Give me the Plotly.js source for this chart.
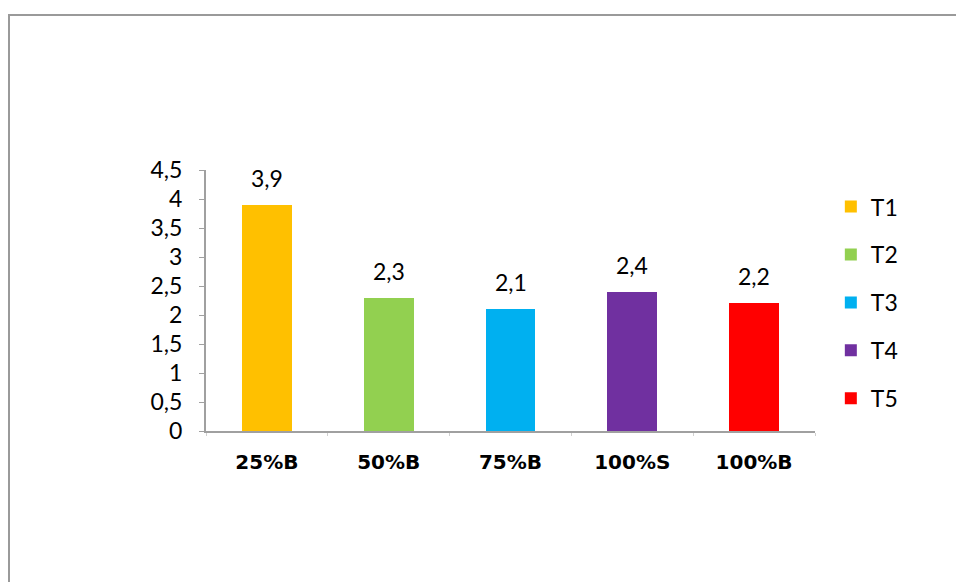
<!DOCTYPE html>
<html>
<head>
<meta charset="utf-8">
<script src="https://cdn.plot.ly/plotly-3.0.1.min.js"></script>
<style>
  html, body { margin: 0; padding: 0; background: #fff; }
  #frame { position: absolute; left: 8px; top: 14px; width: 960px; height: 600px;
           border-left: 2px solid #9a9a9a; border-top: 2px solid #9a9a9a; }
  #chart { position: absolute; left: 0; top: 0; width: 956px; height: 582px; }
</style>
</head>
<body>
<div id="frame"></div>
<div id="chart"></div>
<script>
const categories = ['25%B', '50%B', '75%B', '100%S', '100%B'];
const seriesNames = ['T1', 'T2', 'T3', 'T4', 'T5'];
const values = [3.9, 2.3, 2.1, 2.4, 2.2];
const labels = ['3,9', '2,3', '2,1', '2,4', '2,2'];
const colors = ['#FFC000', '#92D050', '#00B0F0', '#7030A0', '#FF0000'];
const yTicks = [0, 0.5, 1, 1.5, 2, 2.5, 3, 3.5, 4, 4.5];

const traces = seriesNames.map((name, i) => ({
  type: 'bar',
  name: name,
  legendgroup: name,
  x: [categories[i]],
  y: [values[i]],
  marker: { color: colors[i] },
  hoverinfo: 'none'
}));

const annotations = categories.map((c, i) => ({
  x: c, y: values[i], xref: 'x', yref: 'y',
  text: labels[i], showarrow: false,
  yanchor: 'bottom', yshift: 11,
  font: { family: 'Lato, "Open Sans", sans-serif', size: 23, color: '#000' }
}));

const layout = {
  width: 956, height: 582,
  margin: { l: 206, r: 141, t: 170, b: 151 },
  paper_bgcolor: 'rgba(0,0,0,0)',
  plot_bgcolor: 'rgba(0,0,0,0)',
  separators: ',.',
  barmode: 'stack',
  bargap: 0.59,
  showlegend: true,
  legend: {
    x: 1.026, xanchor: 'left', y: 0.942, yanchor: 'top',
    font: { family: 'Lato, "Open Sans", sans-serif', size: 23, color: '#000' },
    tracegroupgap: 15,
    traceorder: 'grouped'
  },
  xaxis: {
    type: 'category',
    categoryorder: 'array', categoryarray: categories,
    showline: true, linecolor: '#a0a0a0', linewidth: 2,
    ticks: 'outside', tickson: 'boundaries', ticklen: 3, tickcolor: '#d0d0d0',
    showgrid: false, zeroline: false,
    tickfont: { family: '"DejaVu Sans", sans-serif', size: 20, color: '#000', weight: 'bold' },
    ticklabelstandoff: 12
  },
  yaxis: {
    range: [0, 4.5],
    tickvals: yTicks,
    showline: true, linecolor: '#a0a0a0', linewidth: 2,
    ticks: 'outside', ticklen: 5, tickcolor: '#a0a0a0',
    showgrid: false, zeroline: false,
    tickfont: { family: 'Lato, "Open Sans", sans-serif', size: 23, color: '#000' },
    ticklabelstandoff: 12
  },
  annotations: annotations
};

Plotly.newPlot('chart', traces, layout, { displayModeBar: false, staticPlot: true });
</script>
</body>
</html>
